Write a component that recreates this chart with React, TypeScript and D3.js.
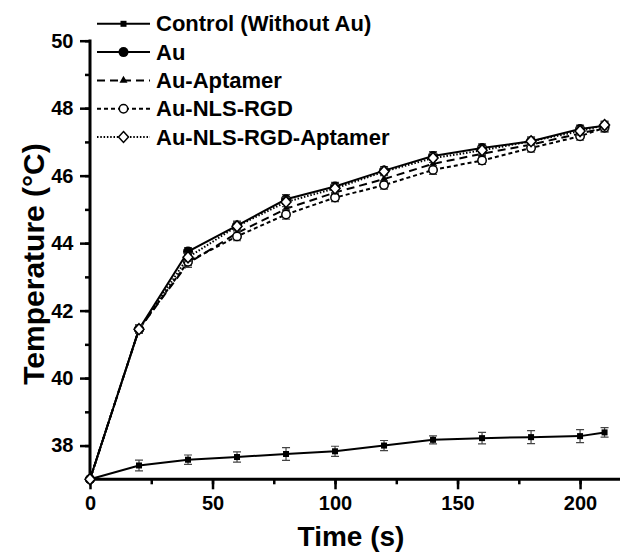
import { useEffect, useRef } from 'react';
import * as d3 from 'd3';

const times = [0, 20, 40, 60, 80, 100, 120, 140, 160, 180, 200, 210];
const control = [37.0, 37.41, 37.58, 37.66, 37.75, 37.83, 38.0, 38.17, 38.22, 38.25, 38.28, 38.39];
const controlErr = [0, 0.16, 0.14, 0.15, 0.19, 0.15, 0.15, 0.12, 0.17, 0.19, 0.19, 0.14];
const au = [37.0, 41.45, 43.75, 44.52, 45.3, 45.68, 46.15, 46.58, 46.82, 47.02, 47.38, 47.48];
const auAptamer = [37.0, 41.45, 43.4, 44.3, 45.02, 45.5, 45.9, 46.35, 46.65, 46.92, 47.25, 47.42];
const auNlsRgd = [37.0, 41.45, 43.45, 44.2, 44.85, 45.35, 45.72, 46.17, 46.45, 46.82, 47.17, 47.42];
const auNlsRgdApt = [37.0, 41.45, 43.58, 44.5, 45.22, 45.62, 46.12, 46.52, 46.75, 47.02, 47.32, 47.5];
const groupErr = [0, 0.12, 0.12, 0.13, 0.14, 0.12, 0.12, 0.13, 0.12, 0.12, 0.12, 0.12];

const seriesNames = ['Control (Without Au)', 'Au', 'Au-Aptamer', 'Au-NLS-RGD', 'Au-NLS-RGD-Aptamer'];

const FONT = '"Liberation Sans", Arial, sans-serif';

const App = () => {
  const svgRef = useRef<SVGSVGElement>(null);

  useEffect(() => {
    const svg = d3.select(svgRef.current);
    svg.selectAll('*').remove();

    const x = d3.scaleLinear().domain([0, 216.3]).range([90, 620]);
    const y = d3.scaleLinear().domain([37, 50]).range([479.3, 40.7]);

    const series = [
      { name: seriesNames[0], vals: control, err: controlErr, marker: 'square', dash: null },
      { name: seriesNames[1], vals: au, err: groupErr, marker: 'circle', dash: null },
      { name: seriesNames[2], vals: auAptamer, err: groupErr, marker: 'triangle', dash: '8,5' },
      { name: seriesNames[3], vals: auNlsRgd, err: groupErr, marker: 'ocircle', dash: '4,3' },
      { name: seriesNames[4], vals: auNlsRgdApt, err: groupErr, marker: 'diamond', dash: '1.5,1.8' },
    ];

    const drawMarker = (g: any, type: string, cx: number, cy: number) => {
      if (type === 'square') {
        g.append('rect').attr('x', cx - 3).attr('y', cy - 3).attr('width', 6).attr('height', 6).attr('fill', '#000');
      } else if (type === 'circle') {
        g.append('circle').attr('cx', cx).attr('cy', cy).attr('r', 5).attr('fill', '#000');
      } else if (type === 'triangle') {
        g.append('path').attr('d', d3.symbol(d3.symbolTriangle, 28)()).attr('transform', `translate(${cx},${cy})`).attr('fill', '#000');
      } else if (type === 'ocircle') {
        g.append('circle').attr('cx', cx).attr('cy', cy).attr('r', 4.2).attr('fill', '#fff').attr('stroke', '#000').attr('stroke-width', 1.5);
      } else if (type === 'diamond') {
        g.append('path').attr('d', 'M0,-5.5L5,0L0,5.5L-5,0Z').attr('transform', `translate(${cx},${cy})`)
          .attr('fill', '#fff').attr('stroke', '#000').attr('stroke-width', 1.5);
      }
    };

    const styleText = (g: any) => g.selectAll('text').attr('font-family', FONT).attr('font-size', 20)
      .attr('font-weight', 'bold').attr('fill', '#000');

    // minor + major ticks
    const axes = svg.append('g');
    axes.append('g')
      .attr('transform', 'translate(0,479.3)')
      .call(d3.axisBottom(x).tickValues(d3.range(0, 216, 25)).tickSize(5).tickFormat(() => ''))
      .call(g => g.select('.domain').remove())
      .call(g => g.selectAll('line').attr('stroke-width', 2.5));
    axes.append('g')
      .attr('transform', 'translate(0,479.3)')
      .call(d3.axisBottom(x).tickValues([0, 50, 100, 150, 200]).tickSize(10).tickPadding(7).tickFormat(d3.format('d')))
      .call(g => g.select('.domain').remove())
      .call(g => g.selectAll('line').attr('stroke-width', 2.5))
      .call(styleText);

    axes.append('g')
      .attr('transform', 'translate(90,0)')
      .call(d3.axisLeft(y).tickValues(d3.range(37, 50.5, 1)).tickSize(5).tickFormat(() => ''))
      .call(g => g.select('.domain').remove())
      .call(g => g.selectAll('line').attr('stroke-width', 2.5));
    axes.append('g')
      .attr('transform', 'translate(90,0)')
      .call(d3.axisLeft(y).tickValues([38, 40, 42, 44, 46, 48, 50]).tickSize(10).tickPadding(6.5).tickFormat(d3.format('d')))
      .call(g => g.select('.domain').remove())
      .call(g => g.selectAll('line').attr('stroke-width', 2.5))
      .call(styleText);

    axes.append('line').attr('x1', 90).attr('x2', 90).attr('y1', y(50) - 1.2).attr('y2', 480.5).attr('stroke', '#000').attr('stroke-width', 3);
    axes.append('line').attr('x1', 88.5).attr('x2', 620).attr('y1', 479.3).attr('y2', 479.3).attr('stroke', '#000').attr('stroke-width', 3);

    // series
    const line = d3.line<number>().x((d, i) => x(times[i])).y(d => y(d));
    series.forEach(s => {
      const g = svg.append('g');
      g.append('path').datum(s.vals).attr('d', line).attr('fill', 'none').attr('stroke', '#000')
        .attr('stroke-width', 2).attr('stroke-dasharray', s.dash);
      s.vals.forEach((v, i) => {
        const e = s.err[i];
        if (e > 0) {
          const cx = x(times[i]);
          g.append('path')
            .attr('d', `M${cx},${y(v - e)}V${y(v + e)}M${cx - 4},${y(v - e)}H${cx + 4}M${cx - 4},${y(v + e)}H${cx + 4}`)
            .attr('stroke', '#444').attr('stroke-width', 1.2).attr('fill', 'none');
        }
        drawMarker(g, s.marker, x(times[i]), y(v));
      });
    });

    // legend
    const lg = svg.append('g');
    series.forEach((s, i) => {
      const ly = 23.8 + i * 28.3;
      lg.append('line').attr('x1', 97).attr('x2', 150).attr('y1', ly).attr('y2', ly)
        .attr('stroke', '#000').attr('stroke-width', 2).attr('stroke-dasharray', s.dash);
      drawMarker(lg, s.marker, 123.5, ly);
      lg.append('text').attr('x', 156).attr('y', ly + 7.5).text(s.name)
        .attr('font-family', FONT).attr('font-size', 22).attr('font-weight', 'bold');
    });

    // axis titles
    svg.append('text').attr('x', 351).attr('y', 546).attr('text-anchor', 'middle').text('Time (s)')
      .attr('font-family', FONT).attr('font-size', 28).attr('font-weight', 'bold');
    svg.append('text').attr('transform', 'translate(44,264) rotate(-90)').attr('text-anchor', 'middle').text('Temperature (°C)')
      .attr('font-family', FONT).attr('font-size', 30).attr('font-weight', 'bold');
  }, []);

  return (
    <svg ref={svgRef} width={620} height={552} style={{ position: 'absolute', left: 0, top: 0, background: '#fff' }}></svg>
  );
};

export default App;
